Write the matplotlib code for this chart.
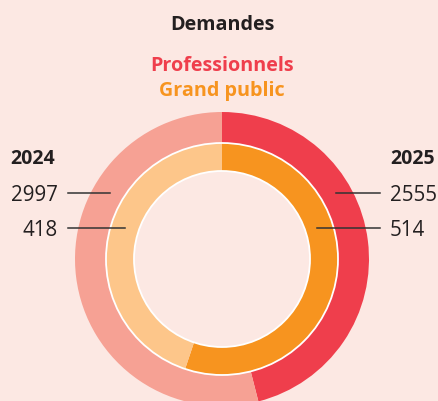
import matplotlib
matplotlib.use("Agg")
import matplotlib.pyplot as plt
from matplotlib.patches import Circle

plt.rcParams['font.family'] = ['Open Sans', 'DejaVu Sans']

# data
years = ["2024", "2025"]
professionnels = [2997, 2555]
grand_public = [418, 514]
series_labels = ["Professionnels", "Grand public"]

BG = "#fce8e3"
RED = "#ef3e4c"
SALMON = "#f6a194"
ORANGE = "#f7941f"
LIGHT_ORANGE = "#fdc68a"
DARK = "#231f20"

W, H = 439, 401
fig = plt.figure(figsize=(W / 100, H / 100), dpi=100, facecolor=BG)
ax = fig.add_axes([0, 0, 1, 1])

cx, cy = 222, H - 259
r_out, r_mid, r_in = 147, 116, 88

# outer ring: professionnels (2025 clockwise from top, 2024 rest)
ax.pie([professionnels[1], professionnels[0]], colors=[RED, SALMON],
       radius=r_out, center=(cx, cy), startangle=90, counterclock=False,
       wedgeprops=dict(width=r_out - r_mid, linewidth=0), frame=True)
# inner ring: grand public
ax.pie([grand_public[1], grand_public[0]], colors=[ORANGE, LIGHT_ORANGE],
       radius=r_mid, center=(cx, cy), startangle=90, counterclock=False,
       wedgeprops=dict(width=r_mid - r_in, linewidth=0), frame=True)
ax.set_xlim(0, W)
ax.set_ylim(0, H)
ax.set_aspect("equal")
ax.axis("off")

for r in (r_mid, r_in):
    ax.add_patch(Circle((cx, cy), r, fill=False, edgecolor="white", linewidth=1.3))

# titles
TS = 14.2
ax.text(cx, H - 30, "Demandes", ha="center", va="baseline", fontsize=TS,
        fontweight="bold", color=DARK)
ax.text(cx, H - 71, series_labels[0], ha="center", va="baseline", fontsize=TS,
        fontweight="bold", color=RED)
ax.text(cx, H - 96, series_labels[1], ha="center", va="baseline", fontsize=TS,
        fontweight="bold", color=ORANGE)

NS = 14.8
# left labels (2024)
ax.text(10, H - 164, years[0], ha="left", va="baseline", fontsize=14,
        fontweight="bold", color=DARK)
ax.text(58, H - 201, str(professionnels[0]), ha="right", va="baseline",
        fontsize=NS, color=DARK)
ax.text(58, H - 236, str(grand_public[0]), ha="right", va="baseline",
        fontsize=NS, color=DARK)
ax.plot([68, 110], [H - 193, H - 193], color="#333333", linewidth=1.1)
ax.plot([68, 125], [H - 228, H - 228], color="#333333", linewidth=1.1)

# right labels (2025)
ax.text(390, H - 164, years[1], ha="left", va="baseline", fontsize=14,
        fontweight="bold", color=DARK)
ax.text(390, H - 201, str(professionnels[1]), ha="left", va="baseline",
        fontsize=NS, color=DARK)
ax.text(390, H - 236, str(grand_public[1]), ha="left", va="baseline",
        fontsize=NS, color=DARK)
ax.plot([336, 380], [H - 193, H - 193], color="#333333", linewidth=1.1)
ax.plot([317, 380], [H - 228, H - 228], color="#333333", linewidth=1.1)

fig.savefig("out.png", dpi=100, facecolor=BG)
